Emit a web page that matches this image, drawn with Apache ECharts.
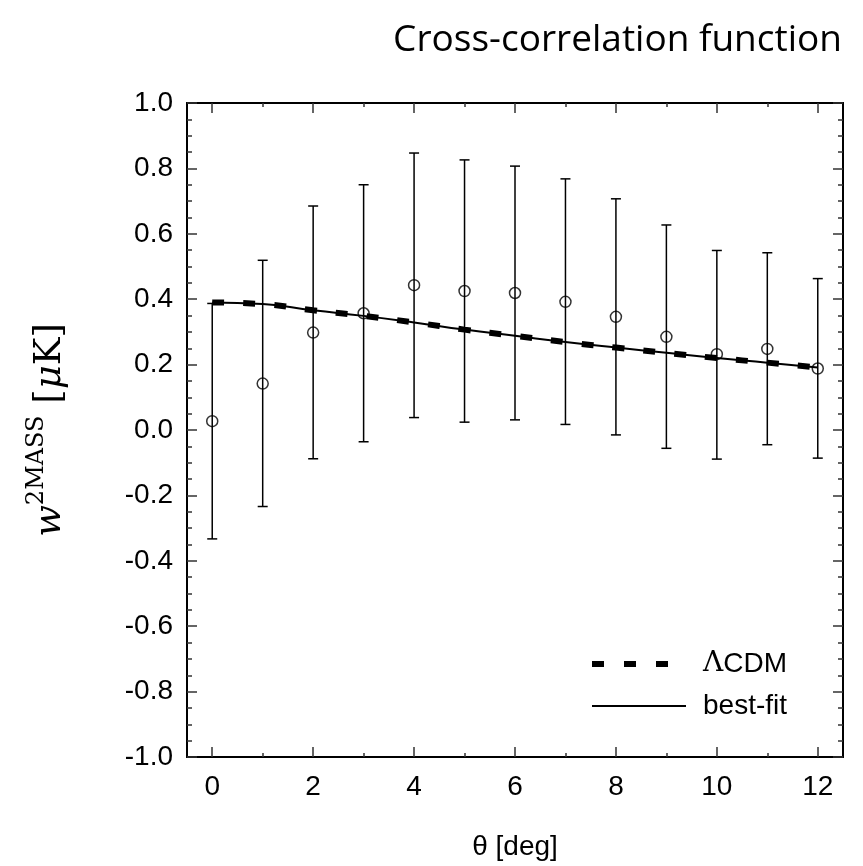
<!DOCTYPE html>
<html>
<head>
<meta charset="utf-8">
<script src="https://cdn.jsdelivr.net/npm/echarts@6/dist/echarts.min.js"></script>
<style>
  html, body { margin: 0; padding: 0; background: #fff; }
  #chart { width: 863px; height: 866px; }
</style>
</head>
<body>
<div id="chart"></div>
<script>
// 数据点
const thetas = [0, 1, 2, 3, 4, 5, 6, 7, 8, 9, 10, 11, 12];
const wMean = [0.027, 0.142, 0.298, 0.357, 0.443, 0.425, 0.419, 0.392, 0.346, 0.285, 0.232, 0.248, 0.188];
const wLow = [-0.333, -0.234, -0.088, -0.036, 0.038, 0.024, 0.031, 0.017, -0.015, -0.056, -0.089, -0.045, -0.086];
const wHigh = [0.387, 0.519, 0.685, 0.750, 0.847, 0.826, 0.807, 0.768, 0.707, 0.627, 0.549, 0.542, 0.463];

// 模型曲线
const modelTheta = [0, 1, 2, 3, 4, 5, 6, 7, 8, 9, 10, 11, 12];
const lcdm = [0.390, 0.385, 0.366, 0.349, 0.329, 0.307, 0.288, 0.269, 0.252, 0.236, 0.220, 0.206, 0.191];
const bestFit = [0.390, 0.385, 0.366, 0.349, 0.329, 0.307, 0.288, 0.269, 0.252, 0.236, 0.220, 0.206, 0.191];

const majorX = [0, 2, 4, 6, 8, 10, 12];
const minorX = [1, 3, 5, 7, 9, 11];

const labelFont = "Liberation Sans";
const tickColor = "#333";

function xAxisOf(pos, ticks, len, showLabel) {
  return {
    type: "value",
    position: pos,
    min: -0.5,
    max: 12.5,
    axisLine: { show: true, onZero: false, lineStyle: { color: "#000", width: 2 } },
    axisTick: { show: true, inside: true, length: len, customValues: ticks, lineStyle: { color: tickColor, width: 1.5 } },
    axisLabel: showLabel
      ? { show: true, customValues: ticks, fontSize: 28, fontFamily: labelFont, color: "#000", margin: 16 }
      : { show: false },
    splitLine: { show: false },
  };
}

function yAxisOf(pos, showLabel) {
  return {
    type: "value",
    position: pos,
    min: -1,
    max: 1,
    interval: 0.2,
    axisLine: { show: true, onZero: false, lineStyle: { color: "#000", width: 2 } },
    axisTick: { show: true, inside: true, length: 10, lineStyle: { color: tickColor, width: 1.5 } },
    minorTick: { show: true, splitNumber: 4, length: 5, lineStyle: { color: tickColor, width: 1.5 } },
    axisLabel: {
      show: showLabel,
      fontSize: 28,
      fontFamily: labelFont,
      color: "#000",
      margin: 14,
      formatter: (v) => (Math.round(v * 10) / 10).toFixed(1),
    },
    splitLine: { show: false },
  };
}

const chart = echarts.init(document.getElementById("chart"));

const xMain = xAxisOf("bottom", majorX, 10, true);
xMain.name = "θ [deg]";
xMain.nameLocation = "middle";
xMain.nameGap = 76;
xMain.nameTextStyle = { fontSize: 28, fontFamily: labelFont, color: "#000" };

const yMain = yAxisOf("left", true);
yMain.name = "{w|w}{s|2MASS}{b| [}{w|μ}{b|K]}";
yMain.nameLocation = "middle";
yMain.nameRotate = 90;
yMain.nameGap = 118;
yMain.nameTextStyle = {
  color: "#000",
  rich: {
    w: { fontSize: 37, fontFamily: "DejaVu Serif", fontStyle: "italic", color: "#000", lineHeight: 46, verticalAlign: "bottom" },
    s: { fontSize: 24, fontFamily: "DejaVu Serif", color: "#000", lineHeight: 46, verticalAlign: "top", padding: [2, 0, 0, 0] },
    b: { fontSize: 37, fontFamily: "DejaVu Serif", color: "#000", lineHeight: 46, verticalAlign: "bottom" },
  },
};

chart.setOption({
  animation: false,
  backgroundColor: "#fff",
  title: {
    text: "Cross-correlation function",
    right: 16,
    top: 17,
    textStyle: { fontSize: 37, fontFamily: "Open Sans", fontWeight: "normal", color: "#000" },
  },
  grid: { left: 187, right: 20, top: 103, bottom: 107 },
  legend: {
    orient: "vertical",
    left: 584,
    top: 645,
    itemWidth: 94,
    itemHeight: 14,
    itemGap: 14,
    itemStyle: { opacity: 0 },
    data: [
      { name: "ΛCDM", lineStyle: { width: 6, type: [12, 20] } },
      { name: "best-fit", lineStyle: { width: 2 } },
    ],
    formatter: (name) => (name === "ΛCDM" ? "{g|Λ}CDM" : name),
    textStyle: {
      fontSize: 28,
      fontFamily: labelFont,
      color: "#000",
      padding: [0, 0, 0, 12],
      rich: { g: { fontSize: 28, fontFamily: "DejaVu Serif", color: "#000" } },
    },
  },
  xAxis: [
    xMain,
    xAxisOf("bottom", minorX, 4, false),
    xAxisOf("top", majorX, 10, false),
    xAxisOf("top", minorX, 4, false),
  ],
  yAxis: [yMain, yAxisOf("right", false)],
  series: [
    {
      name: "errors",
      type: "custom",
      xAxisIndex: 0,
      yAxisIndex: 0,
      data: thetas.map((t, i) => [t, wLow[i], wHigh[i]]),
      renderItem: function (params, api) {
        const lo = api.coord([api.value(0), api.value(1)]);
        const hi = api.coord([api.value(0), api.value(2)]);
        const w = 5;
        const style = { stroke: "#000", lineWidth: 1.5 };
        return {
          type: "group",
          children: [
            { type: "line", shape: { x1: lo[0], y1: lo[1], x2: hi[0], y2: hi[1] }, style },
            { type: "line", shape: { x1: lo[0] - w, y1: lo[1], x2: lo[0] + w, y2: lo[1] }, style },
            { type: "line", shape: { x1: hi[0] - w, y1: hi[1], x2: hi[0] + w, y2: hi[1] }, style },
          ],
        };
      },
      z: 2,
    },
    {
      name: "data",
      type: "scatter",
      data: thetas.map((t, i) => [t, wMean[i]]),
      symbol: "circle",
      symbolSize: 11,
      itemStyle: { color: "transparent", borderColor: "#000", borderWidth: 1.5 },
      z: 3,
    },
    {
      name: "ΛCDM",
      type: "line",
      data: modelTheta.map((t, i) => [t, lcdm[i]]),
      smooth: true,
      symbol: "none",
      color: "#000",
      lineStyle: { color: "#000", width: 6, type: [12, 19] },
      z: 4,
    },
    {
      name: "best-fit",
      type: "line",
      data: modelTheta.map((t, i) => [t, bestFit[i]]),
      smooth: true,
      symbol: "none",
      color: "#000",
      lineStyle: { color: "#000", width: 2 },
      z: 5,
    },
  ],
});
</script>
</body>
</html>
